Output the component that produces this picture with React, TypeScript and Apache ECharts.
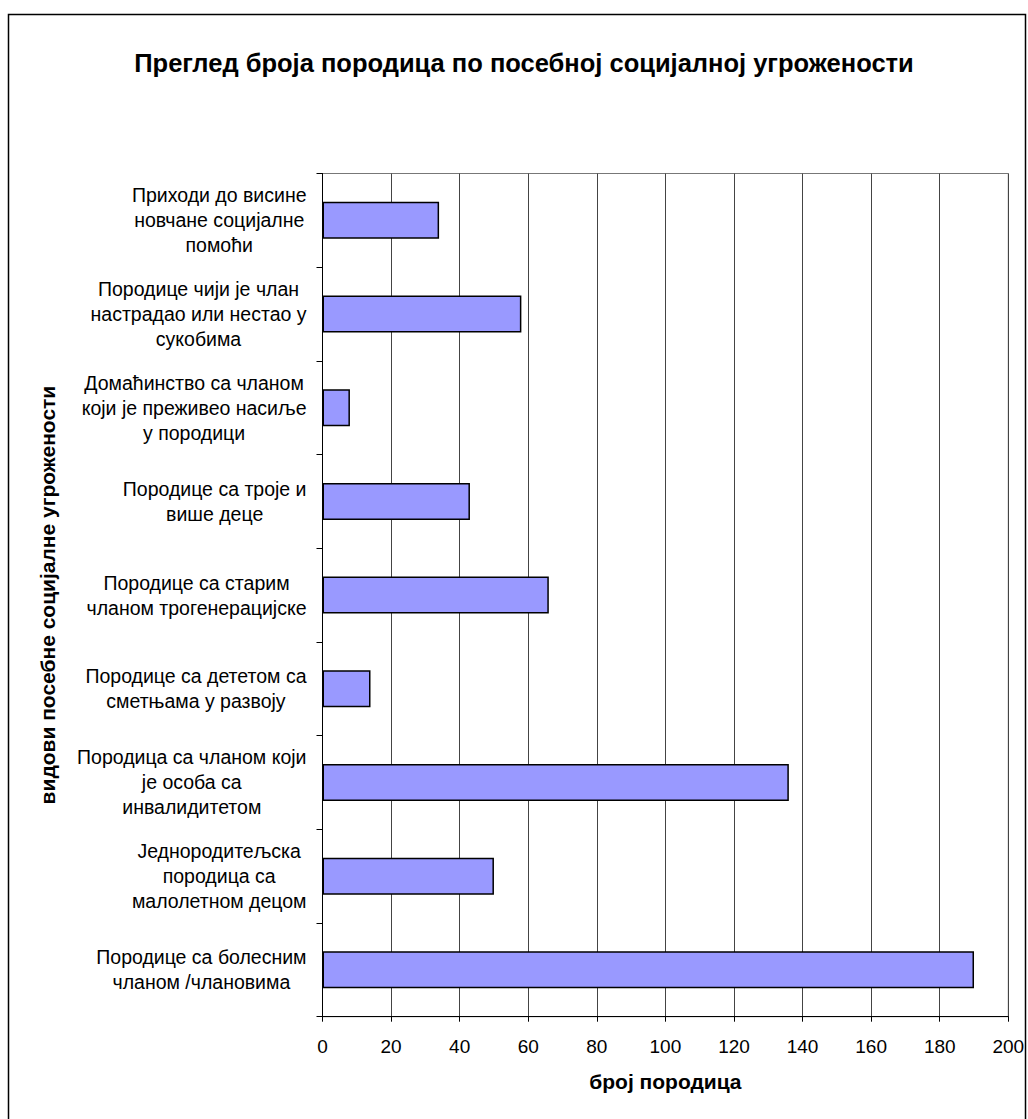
import React, { useEffect, useRef } from "react";
import * as echarts from "echarts";

const TITLE = "Преглед броја породица по посебној социјалној угрожености";
const X_NAME = "број породица";
const Y_NAME = "видови посебне социјалне угрожености";

const categories: string[] = [
  "Приходи до висине\nновчане социјалне\nпомоћи",
  "Породице чији је члан\nнастрадао или нестао у\nсукобима",
  "Домаћинство са чланом\nкоји је преживео насиље\nу породици",
  "Породице са троје и\nвише деце",
  "Породице са старим\nчланом трогенерацијске",
  "Породице са дететом са\nсметњама у развоју",
  "Породица са чланом који\nје особа са\nинвалидитетом",
  "Једнородитељска\nпородица са\nмалолетном децом",
  "Породице са болесним\nчланом /члановима",
];

const values: number[] = [34, 58, 8, 43, 66, 14, 136, 50, 190];

const X_MIN = 0;
const X_MAX = 200;
const X_STEP = 20;

const FONT = "'Liberation Sans', Arial, sans-serif";

export default function App() {
  const ref = useRef<HTMLDivElement>(null);

  useEffect(() => {
    if (!ref.current) return;
    const chart = echarts.init(ref.current, null, { renderer: "svg" });
    chart.setOption({
      animation: false,
      backgroundColor: "#fff",
      title: {
        text: TITLE,
        left: 519,
        textAlign: "center",
        top: 45,
        textStyle: {
          fontFamily: FONT,
          fontSize: 25.5,
          fontWeight: "bold",
          color: "#000",
        },
      },
      graphic: [
        {
          type: "rect",
          shape: { x: 8.5, y: 14.5, width: 1017, height: 1200 },
          style: { fill: "none", stroke: "#000", lineWidth: 1.5 },
          silent: true,
          z: 100,
        },
      ],
      grid: {
        left: 322.5,
        top: 173.5,
        right: 19.7,
        bottom: 102.3,
        show: true,
        borderColor: "#777",
        borderWidth: 1,
        outerBoundsMode: "none",
      },
      xAxis: {
        type: "value",
        min: X_MIN,
        max: X_MAX,
        interval: X_STEP,
        name: X_NAME,
        nameLocation: "middle",
        nameGap: 54,
        nameTextStyle: {
          fontFamily: FONT,
          fontSize: 21,
          fontWeight: "bold",
          color: "#000",
        },
        axisLine: { show: true, lineStyle: { color: "#000", width: 1 } },
        axisTick: { show: true, length: 5, lineStyle: { color: "#000" } },
        axisLabel: {
          fontFamily: FONT,
          fontSize: 19,
          color: "#000",
          margin: 20,
        },
        splitLine: { show: true, lineStyle: { color: "#444", width: 1 } },
      },
      yAxis: {
        type: "category",
        data: categories,
        inverse: true,
        name: Y_NAME,
        nameLocation: "middle",
        nameGap: 265,
        nameTextStyle: {
          fontFamily: FONT,
          fontSize: 21,
          fontWeight: "bold",
          color: "#000",
        },
        axisLine: { show: true, lineStyle: { color: "#000", width: 1 } },
        axisTick: { show: true, length: 6, lineStyle: { color: "#000" } },
        axisLabel: {
          fontFamily: FONT,
          fontSize: 19.5,
          color: "#000",
          margin: 16,
          align: "right",
          interval: 0,
          formatter: (v: string) => `{c|${v}}`,
          rich: {
            c: {
              fontFamily: FONT,
              fontSize: 19.5,
              color: "#000",
              align: "center",
              lineHeight: 25,
            },
          },
        },
        splitLine: { show: false },
      },
      series: [
        {
          type: "bar",
          data: values,
          barWidth: "39.5%",
          itemStyle: {
            color: "#9999FF",
            borderColor: "#000",
            borderWidth: 1.5,
          },
        },
      ],
    });
    return () => chart.dispose();
  }, []);

  return (
    <div
      ref={ref}
      style={{
        position: "absolute",
        left: 0,
        top: 0,
        width: 1028,
        height: 1119,
        background: "#fff",
      }}
    />
  );
}
